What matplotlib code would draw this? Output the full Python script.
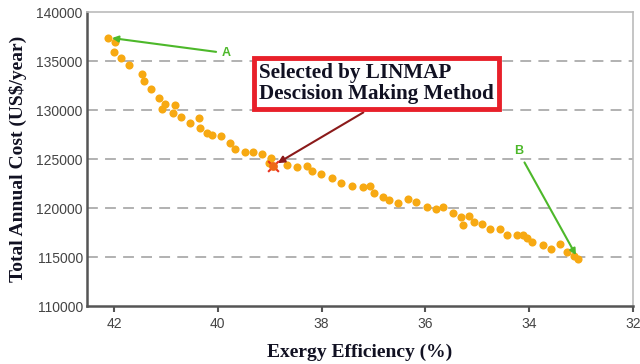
import matplotlib
matplotlib.use("Agg")
import matplotlib.pyplot as plt

# Pareto front: exergy efficiency (%) vs total annual cost (US$/year)
efficiency = [42.12, 41.99, 42.01, 41.87, 41.71, 41.46, 41.42, 41.29, 41.14, 41.01,
              41.07, 40.83, 40.87, 40.71, 40.53, 40.36, 40.35, 40.20, 40.11, 39.94,
              39.77, 39.66, 39.47, 39.32, 39.15, 38.97, 39.02, 38.66, 38.47, 38.28,
              38.18, 38.02, 37.79, 37.62, 37.41, 37.21, 37.07, 36.99, 36.81, 36.70,
              36.52, 36.33, 36.18, 35.97, 35.80, 35.67, 35.47, 35.31, 35.15, 35.28,
              35.06, 34.91, 34.75, 34.57, 34.43, 34.23, 34.12, 34.04, 33.95, 33.74,
              33.57, 33.41, 33.28, 33.14, 33.06]
cost = [137400, 136900, 135900, 135300, 134550, 133700, 132950, 132100, 131250, 130570,
        130120, 130500, 129720, 129280, 128700, 129150, 128190, 127680, 127440, 127340,
        126600, 126050, 125710, 125710, 125470, 125130, 124620, 124350, 124210, 124280,
        123770, 123500, 123090, 122580, 122240, 122190, 122240, 121560, 121150, 120810,
        120540, 120950, 120610, 120130, 119860, 120100, 119460, 119080, 119220, 118260,
        118600, 118330, 117880, 117880, 117240, 117240, 117240, 116970, 116530, 116190,
        115780, 116290, 115540, 115100, 114830]

selected = (38.94, 124300)
point_a = (42.12, 137400)
point_b = (33.06, 114830)

fig = plt.figure(figsize=(6.4, 3.64), dpi=100)
ax = fig.add_axes([0.136, 0.159, 0.853, 0.808])

ax.scatter(efficiency, cost, s=34, color="#F7A912", zorder=3, linewidths=0)
ax.scatter([selected[0]], [selected[1]], s=60, marker="x", color="#E8321E", zorder=4, linewidths=1.5)
ax.scatter([selected[0]], [selected[1]], s=40, color="#EE6A16", zorder=5, linewidths=0)

ax.set_xlim(42.52, 32)
ax.set_ylim(110000, 140000)
ax.set_xticks([42, 40, 38, 36, 34, 32])
ax.set_yticks([110000, 115000, 120000, 125000, 130000, 135000, 140000])
for yv in [115000, 120000, 125000, 130000, 135000]:
    ax.axhline(yv, color="#ababab", linestyle=(0, (6, 4)), linewidth=1.3, zorder=1)

for side in ["left", "bottom"]:
    ax.spines[side].set_color("#555555")
    ax.spines[side].set_linewidth(1.8)
for side in ["top", "right"]:
    ax.spines[side].set_color("#bbbbbb")
    ax.spines[side].set_linewidth(1.2)

ax.tick_params(axis="x", direction="out", length=4, width=1.5, color="#555555",
               labelsize=10, labelcolor="#444444", pad=4)
ax.tick_params(axis="y", length=0, labelsize=10, labelcolor="#444444", pad=3)
for lbl in ax.get_xticklabels() + ax.get_yticklabels():
    lbl.set_family("Liberation Sans")

ax.set_xlabel("Exergy Efficiency (%)", fontsize=14, fontweight="bold",
              family="Liberation Serif", color="#111122", labelpad=9)
ax.set_ylabel("Total Annual Cost (US$/year)", fontsize=14, fontweight="bold",
              family="Liberation Serif", color="#111122", labelpad=7)

# annotations
ax.annotate("A", xy=point_a, xytext=(39.84, 135800), color="#4DB82A", fontsize=9,
            fontweight="bold", family="Liberation Sans", ha="center", va="center",
            arrowprops=dict(arrowstyle="-|>", color="#4DB82A", lw=1.5, shrinkB=3))
ax.annotate("B", xy=point_b, xytext=(34.21, 125800), color="#4DB82A", fontsize=9,
            fontweight="bold", family="Liberation Sans", ha="center", va="center",
            arrowprops=dict(arrowstyle="-|>", color="#4DB82A", lw=1.5, shrinkB=3))
ax.annotate("", xy=selected, xytext=(37.15, 129900),
            arrowprops=dict(arrowstyle="-|>", color="#8B1A1A", lw=1.5, shrinkB=4))
ax.text(39.2, 132700, "Selected by LINMAP\nDescision Making Method", fontsize=15.2,
        fontweight="bold", family="Liberation Serif", color="#111122",
        ha="left", va="center", linespacing=1.05, zorder=6,
        bbox=dict(boxstyle="square,pad=0.25", facecolor="white",
                  edgecolor="#E8202A", linewidth=3.5))

fig.savefig("out.png", dpi=100)
